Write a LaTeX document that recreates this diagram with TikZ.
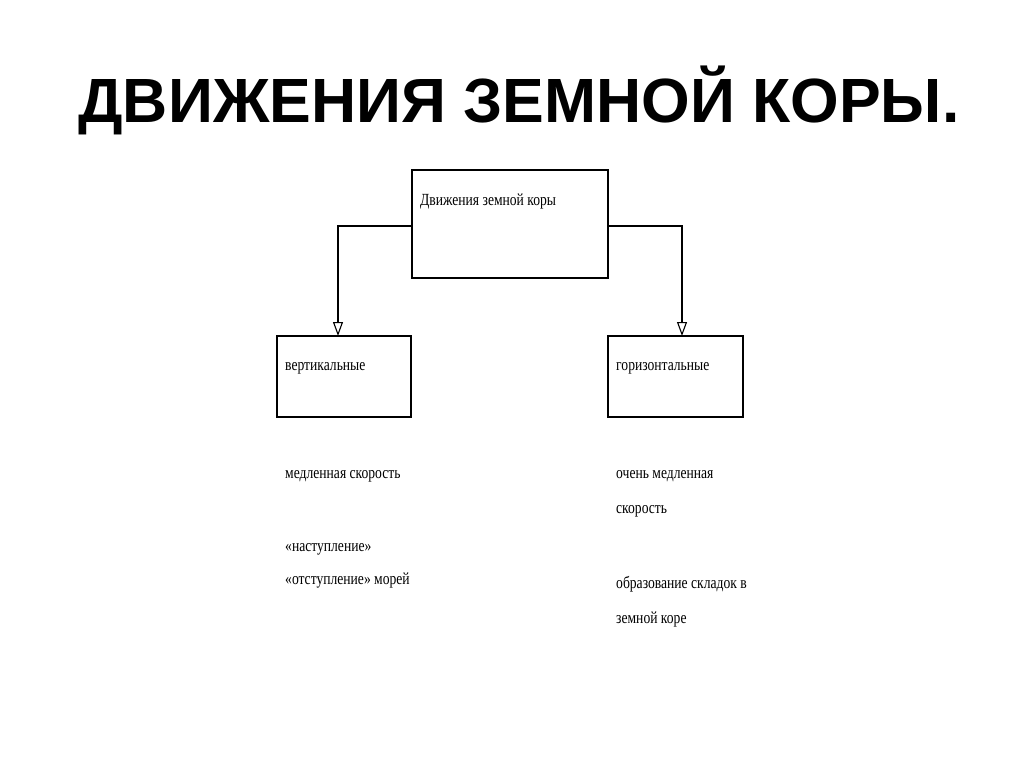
\documentclass[tikz,border=0pt]{standalone}
\usepackage{fontspec}
\setmainfont{Liberation Serif}
\newfontfamily\titlefont{Liberation Sans}
\newfontfamily\smallfont[FakeStretch=0.8]{Liberation Serif}
\usetikzlibrary{arrows.meta}
\begin{document}
\begin{tikzpicture}[x=1pt,y=-1pt,
  bx/.style={draw,line width=1.3pt},
  lbl/.style={anchor=west,font=\smallfont\fontsize{17}{19}\selectfont,inner sep=0pt},
  arr/.style={draw,line width=1.1pt,-{Triangle[open,length=14pt,width=10pt]}}]
\useasboundingbox (0,0) rectangle (1024,768);
\node[font=\titlefont\bfseries\fontsize{62.5}{70}\selectfont] (title) at (519,100) {ДВИЖЕНИЯ ЗЕМНОЙ КОРЫ.};
\draw[bx] (412,170) rectangle (608,278);
\node[lbl] (t0) at (420,201) {Движения земной коры};
\coordinate (topL) at (412,226);
\coordinate (topR) at (608,226);
\draw[bx] (277,336) rectangle (411,417);
\node[lbl] (t1) at (285,368) {вертикальные};
\coordinate (lt) at (338,336);
\draw[bx] (608,336) rectangle (743,417);
\node[lbl] (t2) at (616,368) {горизонтальные};
\coordinate (rt) at (682,336);
\draw[arr] (topL) -| (lt);
\draw[arr] (topR) -| (rt);
\node[lbl] (a1) at (285,476) {медленная скорость};
\node[lbl] (a2) at (285,549) {«наступление»};
\node[lbl] (a3) at (285,581) {«отступление» морей};
\node[lbl] (b1) at (616,476) {очень медленная};
\node[lbl] (b2) at (616,511) {скорость};
\node[lbl] (b3) at (616,584) {образование складок в};
\node[lbl] (b4) at (616,619) {земной коре};
\end{tikzpicture}
\end{document}
